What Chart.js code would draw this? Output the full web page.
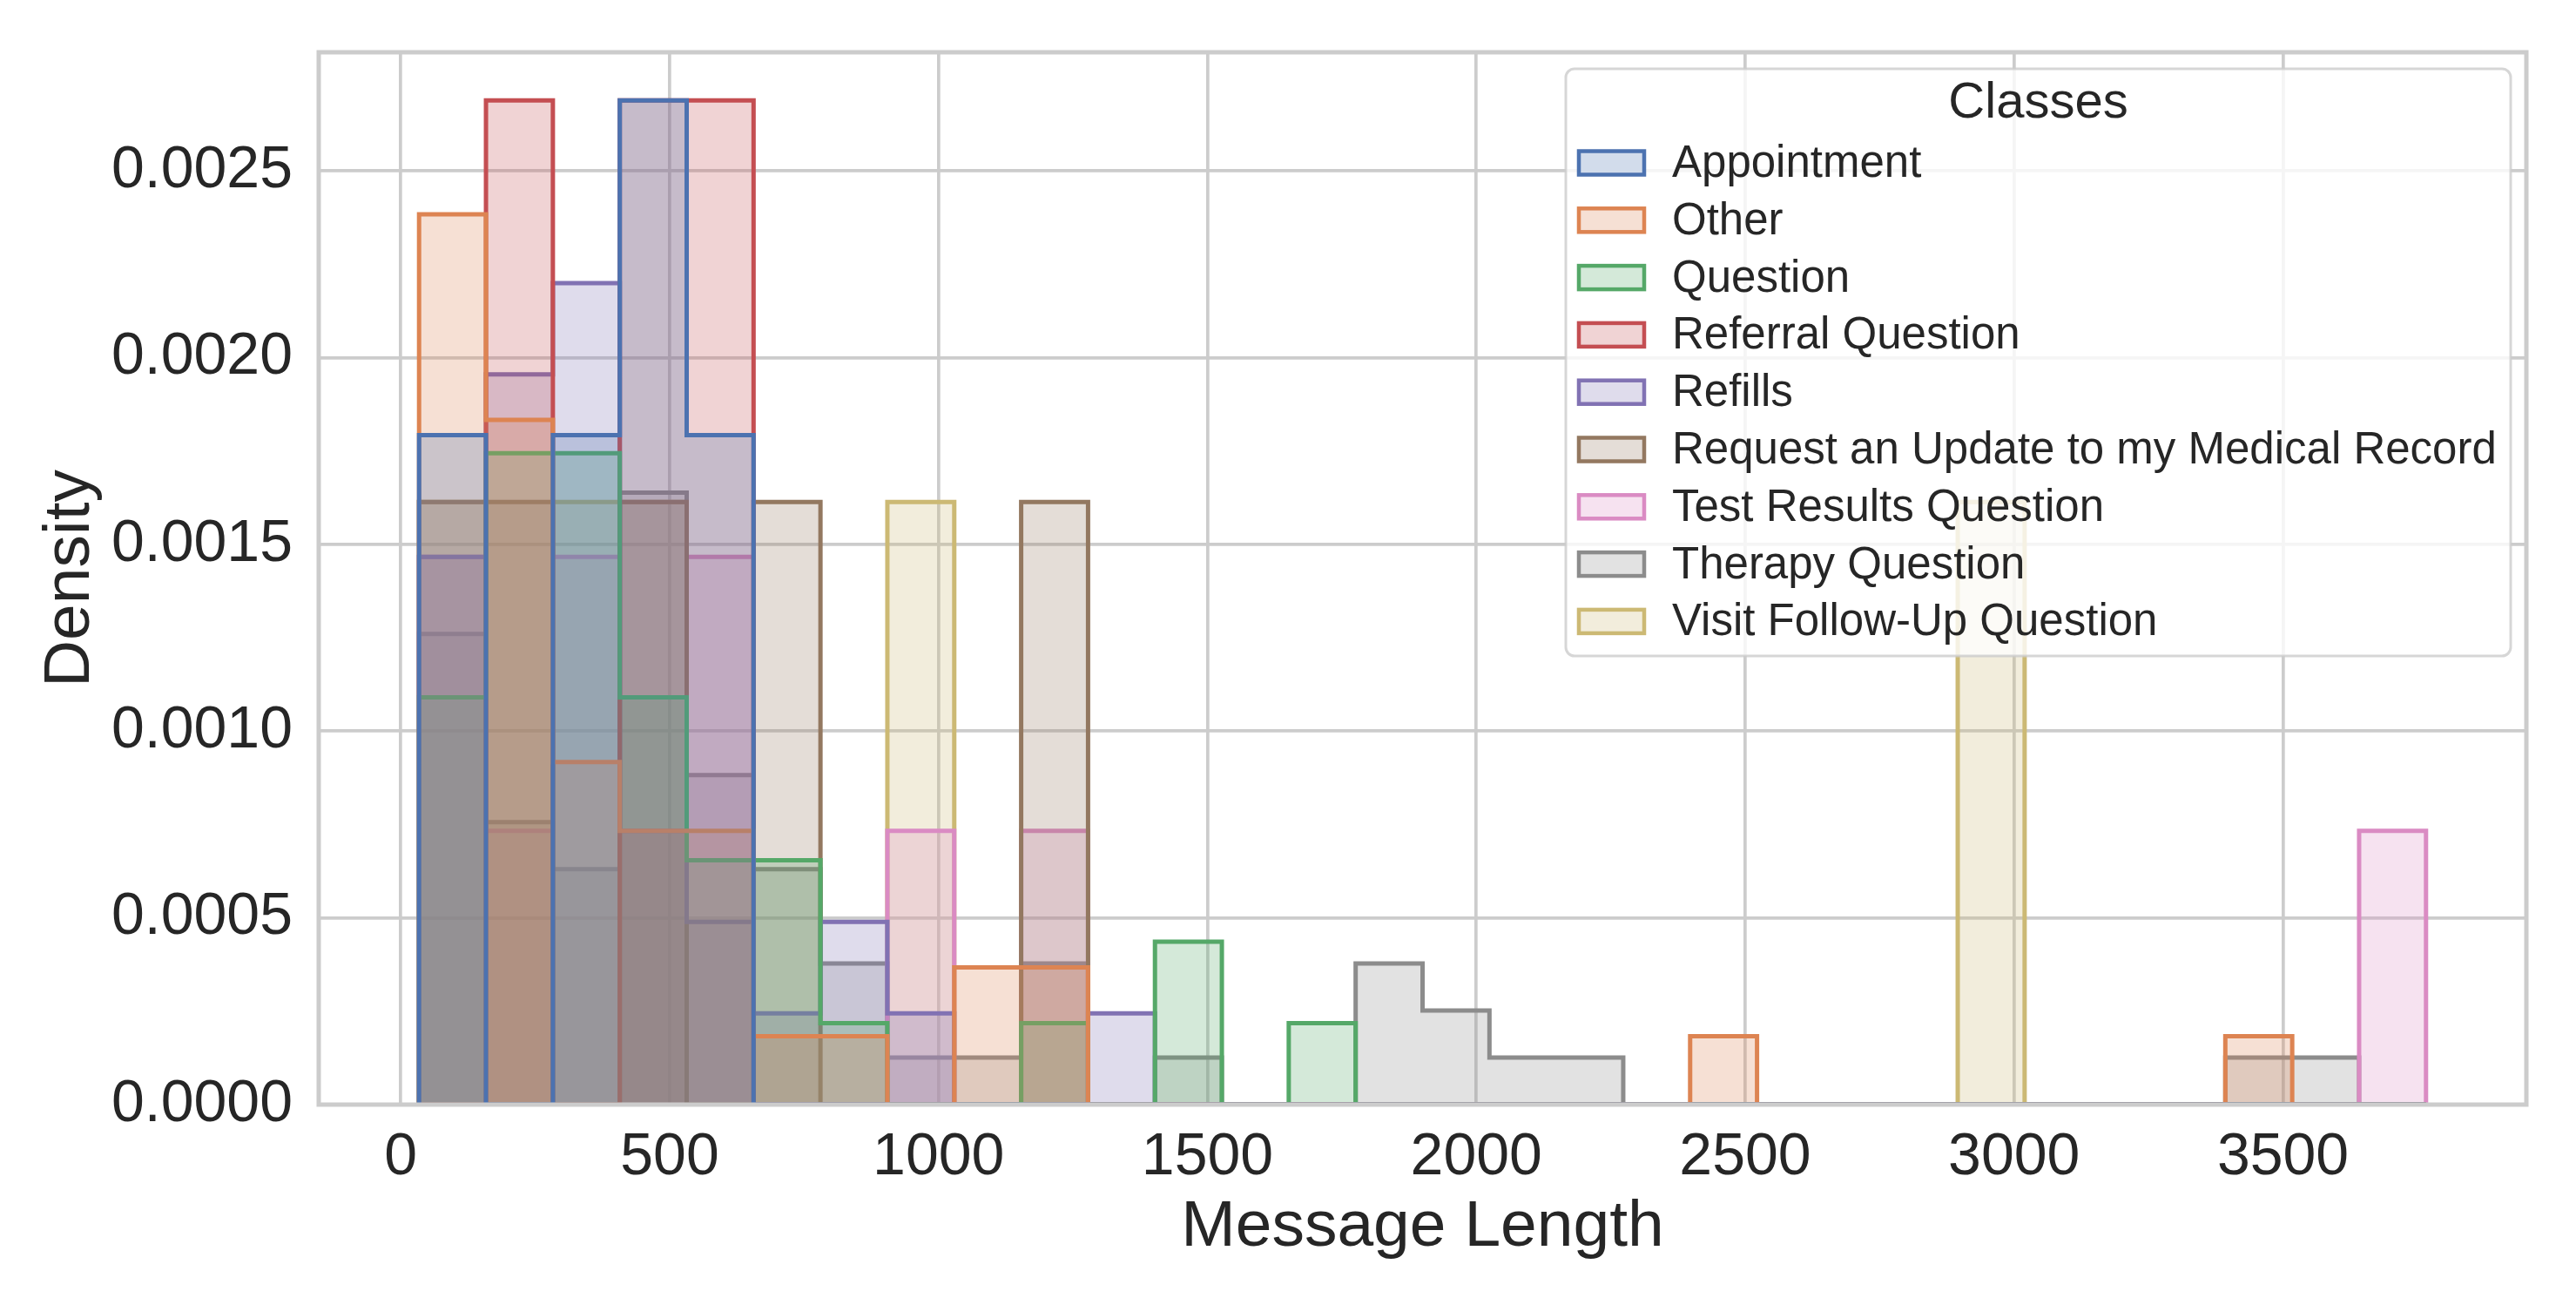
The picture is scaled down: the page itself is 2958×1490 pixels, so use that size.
<!DOCTYPE html>
<html>
<head>
<meta charset="utf-8">
<script src="https://cdn.jsdelivr.net/npm/chart.js@4.4.1/dist/chart.umd.min.js"></script>
<style>
  html, body { margin: 0; padding: 0; background: #ffffff; }
  #wrap { width: 2958px; height: 1490px; position: relative; }
  canvas { display: block; }
</style>
</head>
<body>
<div id="wrap"><canvas id="chart" width="2958" height="1490"></canvas></div>
<script>
// ---- data ----
const binEdges = [34,158.4,282.8,407.2,531.6,656,780.4,904.8,1029.2,1153.6,1278,1402.4,1526.8,1651.2,1775.6,1900,2024.4,2148.8,2273.2,2397.6,2522,2646.4,2770.8,2895.2,3019.6,3144,3268.4,3392.8,3517.2,3641.6,3766];
const classNames = ["Appointment","Other","Question","Referral Question","Refills","Request an Update to my Medical Record","Test Results Question","Therapy Question","Visit Follow-Up Question"];
const classColors = ["#4C72B0","#DD8452","#55A868","#C44E52","#8172B3","#937860","#DA8BC3","#8C8C8C","#CCB974"];
const xTickValues = [0,500,1000,1500,2000,2500,3000,3500];
const yTickValues = [0,0.0005,0.0010,0.0015,0.0020,0.0025];

const appointment = [0.001792,0,0.001792,0.002688,0.001792,0,0,0,0,0, 0,0,0,0,0,0,0,0,0,0, 0,0,0,0,0,0,0,0,0,0];
const other       = [0.002383,0.001833,0.000917,0.000733,0.000733,0.000183,0.000183,0,0.000367,0.000367, 0,0,0,0,0,0,0,0,0,0.000183, 0,0,0,0,0,0,0,0.000183,0,0];
const question    = [0.001090,0.001744,0.001744,0.001090,0.000654,0.000654,0.000218,0,0,0.000218, 0,0.000436,0,0.000218,0,0,0,0,0,0, 0,0,0,0,0,0,0,0,0,0];
const referral    = [0,0.002688,0,0.002688,0.002688,0,0,0,0,0, 0,0,0,0,0,0,0,0,0,0, 0,0,0,0,0,0,0,0,0,0];
const refills     = [0.001466,0.001955,0.002199,0.000733,0.000489,0.000244,0.000489,0.000244,0,0, 0.000244,0,0,0,0,0,0,0,0,0, 0,0,0,0,0,0,0,0,0,0];
const requestUpdate = [0.001613,0.001613,0,0.001613,0,0.001613,0,0,0,0.001613, 0,0,0,0,0,0,0,0,0,0, 0,0,0,0,0,0,0,0,0,0];
const testResults = [0.001466,0.000733,0.001466,0.000733,0.001466,0,0,0.000733,0,0.000733, 0,0,0,0,0,0,0,0,0,0, 0,0,0,0,0,0,0,0,0,0.000733];
const therapy     = [0.001260,0.000756,0.000630,0.001638,0.000882,0.000630,0.000378,0.000126,0.000126,0.000378, 0,0.000126,0,0,0.000378,0.000252,0.000126,0.000126,0,0, 0,0,0,0,0,0,0,0.000126,0.000126,0];
const visitFollowUp = [0.001613,0,0.001613,0.001613,0,0,0,0.001613,0,0, 0,0,0,0,0,0,0,0,0,0, 0,0,0,0.001613,0,0,0,0,0,0];

const seriesValues = [appointment, other, question, referral, refills, requestUpdate, testResults, therapy, visitFollowUp];

// ---- helpers ----
function hexToRgba(hex, a) {
  const n = parseInt(hex.slice(1), 16);
  return `rgba(${(n >> 16) & 255},${(n >> 8) & 255},${n & 255},${a})`;
}
function stepPoints(h) {
  const pts = [{ x: binEdges[0], y: 0 }];
  for (let i = 0; i < h.length; i++) pts.push({ x: binEdges[i], y: h[i] });
  pts.push({ x: binEdges[h.length], y: h[h.length - 1] });
  pts.push({ x: binEdges[h.length], y: 0 });
  return pts;
}

const FONT = '"Liberation Sans", Arial, Helvetica, sans-serif';
const TEXT = '#262626';
Chart.defaults.font.family = FONT;
Chart.defaults.color = TEXT;

const datasets = classNames.map((name, i) => ({
  label: name,
  data: stepPoints(seriesValues[i]),
  stepped: 'before',
  borderColor: classColors[i],
  backgroundColor: hexToRgba(classColors[i], 0.25),
  borderWidth: 5,
  borderJoinStyle: 'miter',
  borderCapStyle: 'butt',
  fill: 'origin',
  pointRadius: 0,
  pointHoverRadius: 0,
  tension: 0
}));

// spines drawn over the bars (like matplotlib)
const framePlugin = {
  id: 'frame',
  afterDatasetsDraw(chart) {
    const { ctx, chartArea: a } = chart;
    ctx.save();
    ctx.strokeStyle = '#cccccc';
    ctx.lineWidth = 5;
    ctx.strokeRect(a.left, a.top, a.right - a.left, a.bottom - a.top);
    ctx.restore();
  }
};

// legend with title inside upper-right of plot
const legendPlugin = {
  id: 'classLegend',
  afterDraw(chart) {
    const { ctx, chartArea: a } = chart;
    const right = a.right - 18, top = a.top + 19;
    const w = 1085, h = 674;
    const left = right - w;
    ctx.save();
    ctx.beginPath();
    ctx.roundRect(left, top, w, h, 10);
    ctx.fillStyle = 'rgba(255,255,255,0.8)';
    ctx.fill();
    ctx.lineWidth = 3;
    ctx.strokeStyle = 'rgba(204,204,204,0.8)';
    ctx.stroke();

    ctx.fillStyle = TEXT;
    ctx.textBaseline = 'middle';
    ctx.textAlign = 'center';
    ctx.font = `58px ${FONT}`;
    ctx.fillText('Classes', left + w / 2, top + 40);

    ctx.font = `51px ${FONT}`;
    ctx.textAlign = 'left';
    const rowH = 65.8;
    const firstY = top + 108;
    classNames.forEach((name, i) => {
      const cy = firstY + i * rowH;
      const px = left + 15, pw = 75, ph = 27;
      ctx.fillStyle = '#ffffff';
      ctx.fillRect(px, cy - ph / 2, pw, ph);
      ctx.fillStyle = hexToRgba(classColors[i], 0.25);
      ctx.fillRect(px, cy - ph / 2, pw, ph);
      ctx.strokeStyle = classColors[i];
      ctx.lineWidth = 4.5;
      ctx.strokeRect(px, cy - ph / 2, pw, ph);
      ctx.fillStyle = TEXT;
      ctx.fillText(name, left + 122, cy + 2);
    });
    ctx.restore();
  }
};

new Chart(document.getElementById('chart'), {
  type: 'line',
  data: { datasets },
  plugins: [framePlugin, legendPlugin],
  options: {
    responsive: false,
    devicePixelRatio: 1,
    animation: false,
    layout: { padding: { top: 60, right: 57, left: 0, bottom: 0 } },
    plugins: { legend: { display: false }, tooltip: { enabled: false } },
    elements: { line: { tension: 0 } },
    scales: {
      x: {
        type: 'linear',
        min: -152.6,
        max: 3952.6,
        afterBuildTicks(scale) { scale.ticks = xTickValues.map(v => ({ value: v })); },
        afterFit(scale) { scale.height = 222; scale.paddingLeft = 0; scale.paddingRight = 0; },
        grid: { color: '#cccccc', lineWidth: 3.7, drawTicks: false },
        border: { display: false },
        ticks: { font: { size: 68 }, color: TEXT, padding: 20, maxRotation: 0, autoSkip: false,
                 callback: v => String(v) },
        title: { display: true, text: 'Message Length', font: { size: 75 }, color: TEXT,
                 padding: { top: 0, bottom: 36 } }
      },
      y: {
        type: 'linear',
        min: 0,
        max: 0.002817,
        afterBuildTicks(scale) { scale.ticks = yTickValues.map(v => ({ value: v })); },
        afterFit(scale) { scale.width = 366; scale.paddingTop = 0; scale.paddingBottom = 0; },
        grid: { color: '#cccccc', lineWidth: 3.7, drawTicks: false },
        border: { display: false },
        ticks: { font: { size: 68 }, color: TEXT, padding: 30, autoSkip: false,
                 callback: v => Number(v).toFixed(4) },
        title: { display: true, text: 'Density', font: { size: 75 }, color: TEXT,
                 padding: { top: 36, bottom: 0 } }
      }
    }
  }
});
</script>
</body>
</html>
